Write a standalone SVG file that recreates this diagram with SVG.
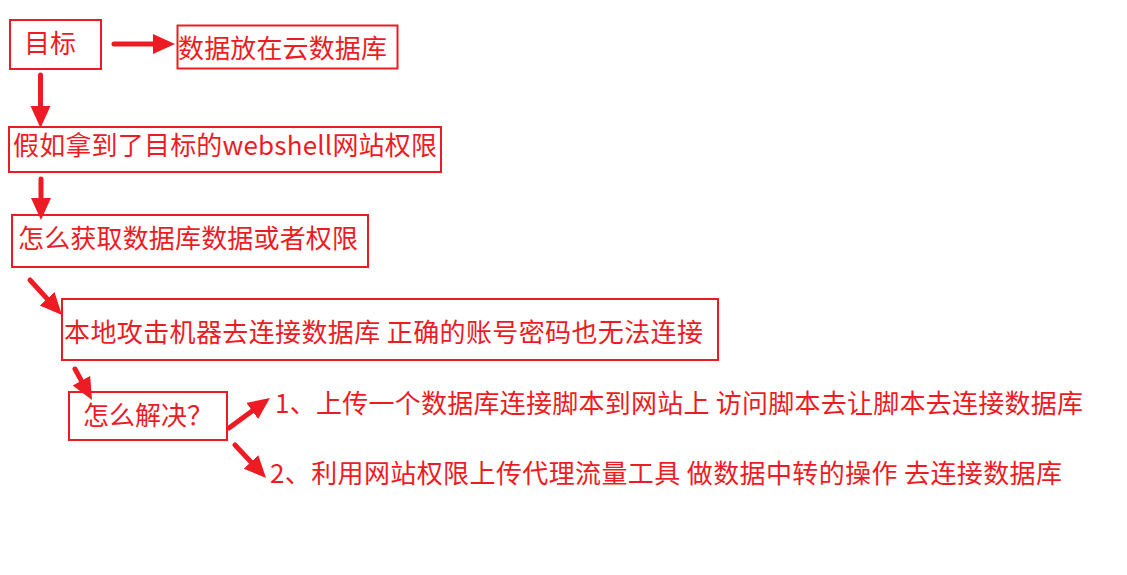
<svg xmlns="http://www.w3.org/2000/svg" width="1127" height="575" viewBox="0 0 1127 575">
<style>
.box{fill:none;stroke:#ED1C24;stroke-width:2}
.t{fill:#ED1C24;font-family:"Microsoft YaHei","Noto Sans CJK SC","Noto Sans",sans-serif;font-size:26px}
.c{stroke:#ED1C24;stroke-width:5;stroke-linecap:round;fill:none}
</style>
<defs>
<marker id="ah" markerUnits="userSpaceOnUse" markerWidth="24" markerHeight="22" refX="12" refY="10" orient="auto">
<path d="M0,0 L22,10 L0,20 z" fill="#ED1C24"/>
</marker>
</defs>
<rect width="1127" height="575" fill="#ffffff"/>
<g id="n-goal"><rect class="box" x="10" y="20" width="91" height="49"/><text class="t" x="24" y="53">目标</text></g>
<g id="n-cloud"><rect class="box" x="177.5" y="25.5" width="220" height="43"/><text class="t" x="178" y="58" textLength="209">数据放在云数据库</text></g>
<g id="n-webshell"><rect class="box" x="9" y="127" width="432" height="45"/><text class="t" x="13" y="155" textLength="424">假如拿到了目标的webshell网站权限</text></g>
<g id="n-how"><rect class="box" x="12" y="215" width="356" height="52"/><text class="t" x="18" y="248" textLength="340">怎么获取数据库数据或者权限</text></g>
<g id="n-local"><rect class="box" x="62" y="299" width="656" height="61"/><text class="t" x="64" y="342" textLength="639">本地攻击机器去连接数据库 正确的账号密码也无法连接</text></g>
<g id="n-solve"><rect class="box" x="69" y="392" width="158" height="48"/><text class="t" x="83" y="425">怎么解决？</text></g>
<g id="n-opt1"><text class="t" x="275" y="413" textLength="808">1、上传一个数据库连接脚本到网站上 访问脚本去让脚本去连接数据库</text></g>
<g id="n-opt2"><text class="t" x="270" y="483" textLength="792">2、利用网站权限上传代理流量工具 做数据中转的操作 去连接数据库</text></g>
<g id="connectors">
<line class="c" x1="114" y1="44" x2="165" y2="44" marker-end="url(#ah)"/>
<line class="c" x1="40.5" y1="75" x2="40.5" y2="118" marker-end="url(#ah)"/>
<line class="c" x1="41" y1="179" x2="41" y2="210" marker-end="url(#ah)"/>
<line class="c" x1="30" y1="280" x2="55.2" y2="307.6" marker-end="url(#ah)"/>
<line class="c" x1="75" y1="369" x2="87.2" y2="391.2" marker-end="url(#ah)"/>
<line class="c" x1="229" y1="428" x2="261.9" y2="403.9" marker-end="url(#ah)"/>
<line class="c" x1="235" y1="445" x2="259.2" y2="470.7" marker-end="url(#ah)"/>
</g>
</svg>
